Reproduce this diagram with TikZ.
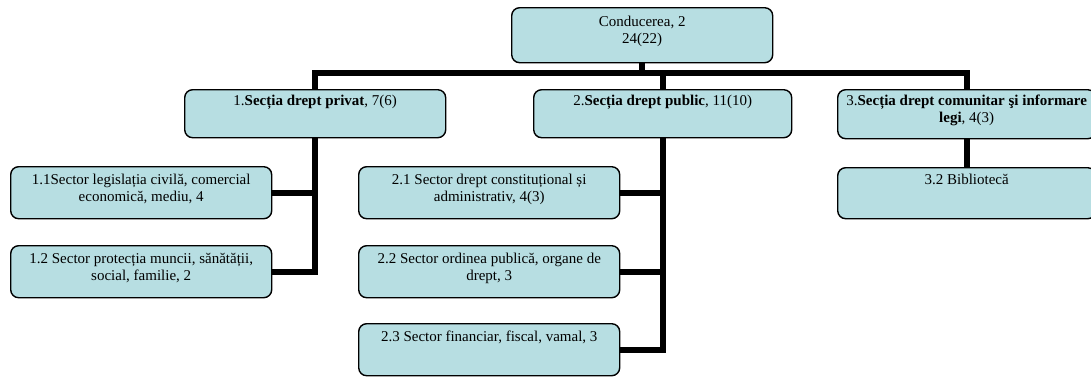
\documentclass[tikz,border=0pt]{standalone}
\usepackage{fontspec}
\setmainfont{Liberation Serif}
\usetikzlibrary{positioning, calc}
\definecolor{cellblue}{RGB}{183, 222, 226}
\newcommand{\celltext}[1]{\parbox[t][44pt][t]{256pt}{\centering\rule{0pt}{13.5pt}#1}}

\begin{document}
\begin{tikzpicture}[x=1pt, y=-1pt,
  unit/.style={draw, line width=1.4pt, rounded corners=8pt, fill=cellblue, anchor=north west,
    inner sep=0pt, minimum width=261pt, minimum height=52pt, font=\fontsize{15}{17}\selectfont},
  link/.style={line width=6pt}]
  \useasboundingbox (0,0) rectangle (1091,376);
  \clip (0,0) rectangle (1091,376);

  % Management
  \node[unit, minimum height=55pt] (cond) at (511,7) {\celltext{Conducerea, 2\\24(22)}};

  % Sections
  \node[unit, minimum height=48pt] (sec1) at (184,89) {\celltext{1.\textbf{Secția drept privat}, 7(6)}};
  \node[unit, minimum height=48pt, minimum width=258pt] (sec2) at (533,89) {\celltext{2.\textbf{Secția drept public}, 11(10)}};
  \node[unit, minimum height=49pt, minimum width=258pt] (sec3) at (837,89) {\celltext{3.\textbf{Secția drept comunitar şi informare\\legi}, 4(3)}};

  % Sectors
  \node[unit] (s11) at (10,166) {\celltext{1.1Sector legislația civilă, comercial\\economică, mediu, 4}};
  \node[unit] (s12) at (10,245) {\celltext{1.2 Sector protecția muncii, sănătății,\\social, familie, 2}};
  \node[unit] (s21) at (358,166) {\celltext{2.1 Sector drept constituțional și\\administrativ, 4(3)}};
  \node[unit] (s22) at (358,245) {\celltext{2.2 Sector ordinea publică, organe de\\drept, 3}};
  \node[unit] (s23) at (358,323) {\celltext{2.3 Sector financiar, fiscal, vamal, 3}};
  \node[unit, minimum height=51pt, minimum width=258pt] (s32) at (837,167) {\celltext{3.2 Bibliotecă}};

  % Top level bus
  \coordinate (bus) at (0,73);
  \draw[link] (cond.south) -- (cond.south |- bus);
  \draw[link] (sec1.north) -- (sec1.north |- bus) -- (sec3.north |- bus) -- (sec3.north);
  \draw[link] (sec2.north) -- (sec2.north |- bus);

  % Section to sector links
  \draw[link] (sec1.south) |- (s12.east);
  \draw[link] (s11.east) -- (s11.east -| sec1.south);
  \draw[link] (sec2.south) |- (s23.east);
  \draw[link] (s21.east) -- (s21.east -| sec2.south);
  \draw[link] (s22.east) -- (s22.east -| sec2.south);
  \draw[link] (sec3.south) -- (s32.north);
\end{tikzpicture}
\end{document}
